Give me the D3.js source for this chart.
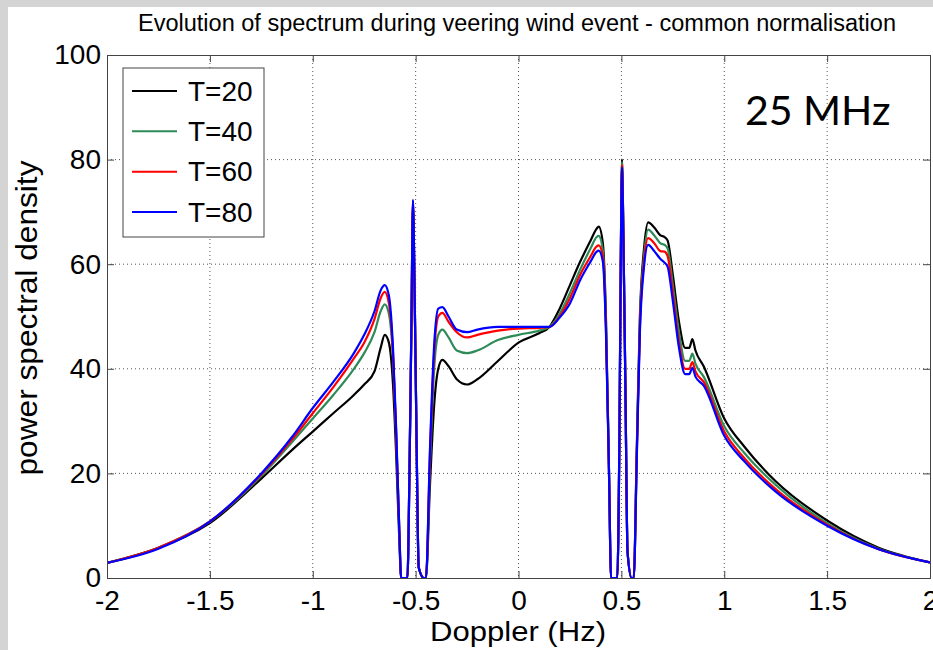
<!DOCTYPE html>
<html>
<head>
<meta charset="utf-8">
<script src="https://cdn.jsdelivr.net/npm/d3@7"></script>
<style>
  body { margin: 0; background: #fff; }
  svg text { font-family: "Liberation Sans", Arial, sans-serif; }
</style>
</head>
<body>
<div id="vis"></div>
<script>
// doppler frequencies (Hz), shared by all four series
const doppler = [-2, -1.75, -1.5, -1.25, -1.1, -1, -0.9, -0.8, -0.75, -0.7, -0.67, -0.65, -0.63, -0.61, -0.595, -0.58, -0.57,
  -0.54, -0.53, -0.52, -0.513, -0.505, -0.495, -0.485, -0.46, -0.45, -0.43, -0.41, -0.39, -0.37, -0.34, -0.3, -0.25, -0.2,
  -0.1, 0, 0.1, 0.15, 0.2, 0.25, 0.3, 0.35, 0.38, 0.39, 0.41, 0.425, 0.44, 0.45, 0.48, 0.49, 0.497, 0.503, 0.51, 0.52, 0.53,
  0.55, 0.56, 0.575, 0.59, 0.61, 0.63, 0.66, 0.69, 0.71, 0.725, 0.75, 0.78, 0.81, 0.83, 0.845, 0.86, 0.9, 1, 1.1, 1.25, 1.5, 1.75, 2];

const t20 = [2.9, 5.8, 10.5, 19, 24.5, 28, 31.5, 35, 37, 39.5, 44, 46.5, 45, 37, 24, 8, 0,
  0, 20, 50, 71, 55, 25, 2, 0, 0, 18, 33, 40, 41.7, 40.5, 38, 37, 38,
  41.5, 45, 46.8, 48, 51.5, 56, 60.5, 64.5, 66.8, 67.2, 64, 50, 20, 0, 0, 25, 60, 80, 65, 35, 5,
  0, 0, 25, 50, 63, 68, 67, 65.5, 65.2, 64.5, 58, 49, 44, 44, 45.7, 43.5, 40.5, 30.5, 25, 18.5, 11, 5.8, 3];

const t40 = [2.9, 5.8, 10.8, 19.5, 26, 30.5, 35, 40, 43, 47, 51, 52.3, 50.5, 42, 28, 10, 0,
  0, 20, 50, 71.5, 55, 25, 2, 0, 0, 22, 40, 46.5, 47.5, 46, 43.5, 43, 43.5,
  45.5, 46.5, 47.3, 48, 50.5, 54.5, 59, 63, 65.2, 65.4, 62.5, 49, 20, 0, 0, 25, 60, 79.5, 65, 35, 5,
  0, 0, 24, 49, 61.5, 66.6, 65.5, 64, 63.7, 63, 56, 47, 41.5, 41.5, 42.9, 41, 38.5, 29, 23.8, 17.8, 10.5, 5.6, 3];

const t60 = [2.9, 5.8, 10.8, 19.8, 26.5, 31.5, 36.5, 42, 45, 49.5, 53.5, 54.7, 52.5, 43, 28, 10, 0,
  0, 20, 50, 72, 55, 25, 2, 0, 0, 24, 43, 50, 50.7, 49, 47, 46, 46.5,
  47.3, 47.7, 47.8, 48, 50, 53.5, 58, 61.5, 63.4, 63.6, 61.5, 48, 20, 0, 0, 25, 60, 79, 65, 35, 5,
  0, 0, 24, 48, 60.5, 65, 64, 62.5, 62.4, 61.5, 54.5, 45, 40, 40, 41.3, 39.5, 37.5, 28, 22.8, 17, 10.2, 5.5, 3];

const t80 = [2.9, 5.6, 10.8, 20, 27, 32.5, 37.5, 43, 46.5, 51, 55, 56, 54, 44, 29, 10, 0,
  0, 20, 50, 72.3, 55, 25, 2, 0, 0, 25, 44.5, 51.5, 51.8, 50, 47.5, 47, 47.5,
  48, 48, 48, 48, 49.8, 52.5, 57, 60.5, 62.4, 62.6, 60.5, 47, 20, 0, 0, 25, 60, 78.5, 65, 35, 5,
  0, 0, 23, 47, 59.5, 63.7, 62.5, 61, 60.3, 59.5, 53, 44, 39, 39, 40.2, 38.5, 36.8, 27.2, 22.2, 16.5, 10, 5.5, 3];

const seriesNames = ["T=20", "T=40", "T=60", "T=80"];
const seriesValues = [t20, t40, t60, t80];
const seriesColors = ["#000000", "#2e8b57", "#ff0000", "#0000ff"];

const xTicks = [-2, -1.5, -1, -0.5, 0, 0.5, 1, 1.5, 2];
const yTicks = [0, 20, 40, 60, 80, 100];

// figure size and plot box
const W = 933, H = 650;
let margin = {top: 55, right: 3, bottom: 72, left: 107},
    width = W - margin.left - margin.right,
    height = H - margin.top - margin.bottom;

const root = d3.select("#vis")
  .append("svg")
  .attr("width", W)
  .attr("height", H);

// grey window frame on top and left
root.append("rect").attr("x", 0).attr("y", 0).attr("width", W).attr("height", 7).attr("fill", "#d4d4d4");
root.append("rect").attr("x", 0).attr("y", 0).attr("width", 8).attr("height", H).attr("fill", "#d4d4d4");

const svg = root.append("g")
  .attr("transform", `translate(${margin.left},${margin.top})`);

const x = d3.scaleLinear().domain([-2, 2]).range([0, width]);
const y = d3.scaleLinear().domain([0, 100]).range([height, 0]);

// plain hyphen for negatives, like matlab
const fmt = d => String(d);

// dotted grid
svg.append("g")
  .selectAll("line")
  .data(xTicks.slice(1, -1))
  .join("line")
  .attr("x1", d => x(d)).attr("x2", d => x(d))
  .attr("y1", 0).attr("y2", height)
  .attr("stroke", "#555").attr("stroke-width", 1).attr("stroke-dasharray", "1,3");

svg.append("g")
  .selectAll("line")
  .data(yTicks.slice(1, -1))
  .join("line")
  .attr("x1", 0).attr("x2", width)
  .attr("y1", d => y(d)).attr("y2", d => y(d))
  .attr("stroke", "#555").attr("stroke-width", 1).attr("stroke-dasharray", "1,3");

// clip the curves to the axes box
svg.append("clipPath").attr("id", "clip")
  .append("rect").attr("width", width).attr("height", height);

const line = d3.line()
  .x((d, i) => x(doppler[i]))
  .y(d => y(d))
  .curve(d3.curveMonotoneX);

svg.append("g")
  .attr("clip-path", "url(#clip)")
  .selectAll("path")
  .data(seriesValues)
  .join("path")
  .attr("fill", "none")
  .attr("stroke", (d, i) => seriesColors[i])
  .attr("stroke-width", 2.2)
  .attr("stroke-linejoin", "round")
  .attr("d", line);

// axes: inward ticks on all four sides (matlab style)
const tickLen = 7;
svg.append("g")
  .attr("transform", `translate(0,${height})`)
  .call(d3.axisBottom(x).tickValues(xTicks).tickSize(-tickLen).tickPadding(12).tickFormat(fmt))
  .call(g => g.select(".domain").attr("stroke", "#444"))
  .call(g => g.selectAll(".tick line").attr("stroke", "#444"))
  .call(g => g.selectAll("text").attr("fill", "#000").style("font-size", "28px"));

svg.append("g")
  .call(d3.axisTop(x).tickValues(xTicks).tickSize(-tickLen).tickFormat(""))
  .call(g => g.select(".domain").attr("stroke", "#444"))
  .call(g => g.selectAll(".tick line").attr("stroke", "#444"));

svg.append("g")
  .call(d3.axisLeft(y).tickValues(yTicks).tickSize(-tickLen).tickPadding(6).tickFormat(fmt))
  .call(g => g.select(".domain").attr("stroke", "#444"))
  .call(g => g.selectAll(".tick line").attr("stroke", "#444"))
  .call(g => g.selectAll("text").attr("fill", "#000").style("font-size", "28px"));

svg.append("g")
  .attr("transform", `translate(${width},0)`)
  .call(d3.axisRight(y).tickValues(yTicks).tickSize(-tickLen).tickFormat(""))
  .call(g => g.select(".domain").attr("stroke", "#444"))
  .call(g => g.selectAll(".tick line").attr("stroke", "#444"));

// title and axis labels
root.append("text")
  .attr("x", 517).attr("y", 31)
  .attr("text-anchor", "middle")
  .attr("textLength", 758).attr("lengthAdjust", "spacingAndGlyphs")
  .style("font-size", "23px")
  .text("Evolution of spectrum during veering wind event - common normalisation");

root.append("text")
  .attr("x", 518).attr("y", 641)
  .attr("text-anchor", "middle")
  .attr("textLength", 176).attr("lengthAdjust", "spacingAndGlyphs")
  .style("font-size", "28px")
  .text("Doppler (Hz)");

root.append("text")
  .attr("transform", "translate(37,318) rotate(-90)")
  .attr("text-anchor", "middle")
  .attr("textLength", 315).attr("lengthAdjust", "spacingAndGlyphs")
  .style("font-size", "29px")
  .text("power spectral density");

// frequency annotation
root.append("text")
  .attr("x", 745).attr("y", 125)
  .style("font-family", "Lato, 'Open Sans', sans-serif")
  .style("font-size", "41px")
  .text("25 MHz");

// legend
const legend = root.append("g");
legend.append("rect")
  .attr("x", 123).attr("y", 68).attr("width", 141).attr("height", 169)
  .attr("fill", "#fff").attr("stroke", "#444").attr("stroke-width", 1);

const legendY = d3.scalePoint().domain(seriesNames).range([91, 212]);

legend.selectAll("line")
  .data(seriesNames)
  .join("line")
  .attr("x1", 132).attr("x2", 177)
  .attr("y1", d => legendY(d)).attr("y2", d => legendY(d))
  .attr("stroke", (d, i) => seriesColors[i])
  .attr("stroke-width", 2);

legend.selectAll("text")
  .data(seriesNames)
  .join("text")
  .attr("x", 188)
  .attr("y", d => legendY(d))
  .attr("dy", "0.35em")
  .style("font-size", "28px")
  .text(d => d);
</script>
</body>
</html>
